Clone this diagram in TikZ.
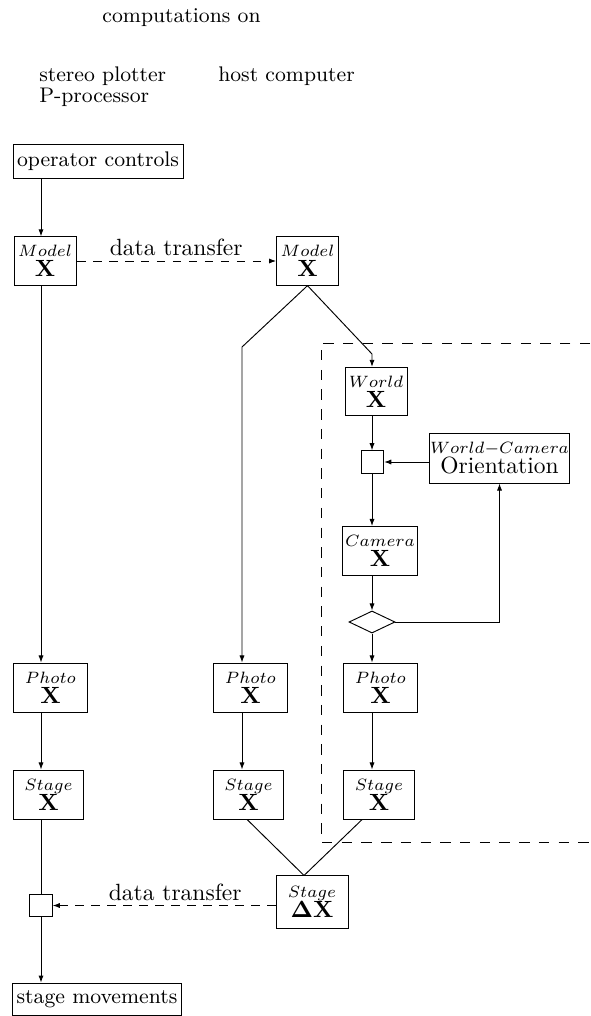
\documentclass[tikz,border=0pt]{standalone}
\usepackage{amsmath,amssymb}
\usepackage{tikz}
\usetikzlibrary{arrows.meta}
\usetikzlibrary{shapes.geometric}

\newcommand{\coordlbl}[2]{$\scriptstyle #1$\\[-3.5pt]$\mathbf{#2}$}

\begin{document}
\begin{tikzpicture}[x=0.426pt, y=-0.426pt,
    >={Latex[length=3pt,width=2.2pt]},
    frame/.style={draw, inner sep=0pt, align=center},
    narrowbox/.style={frame, minimum width=26.4pt, minimum height=20.6pt},
    widebox/.style={frame, minimum width=31.6pt, minimum height=20.9pt},
    textbox/.style={frame, font=\small, minimum height=14.5pt},
    joint/.style={draw, inner sep=0pt, minimum size=9.6pt},
    transfer/.style={dash pattern=on 3.6pt off 3.2pt},
    region/.style={dash pattern=on 4.4pt off 4pt}]
  \useasboundingbox (0,0) rectangle (590,1016);

  \node[font=\small] (comp) at (181.5,18) {computations on};
  \node[font=\small, anchor=west] (plotter) at (31,76) {stereo plotter};
  \node[font=\small, anchor=west] (pproc) at (31,97) {P-processor};
  \node[font=\small, anchor=west] (host) at (210,76) {host computer};

  \node[textbox, minimum width=72.4pt] (opctrl) at (98,161) {operator controls};
  \node[narrowbox] (modelL) at (45,261) {\coordlbl{Model}{X}};
  \node[narrowbox] (modelR) at (307.5,261) {\coordlbl{Model}{X}};
  \node[narrowbox] (world) at (376,391.5) {\coordlbl{World}{X}};
  \node[joint] (junc) at (372.5,462) {};
  \node[frame, minimum width=60pt, minimum height=20.9pt] (orient) at (499.5,458.5)
    {$\scriptstyle World-Camera$\\[-3.5pt]Orientation};
  \node[widebox] (camera) at (380,551) {\coordlbl{Camera}{X}};
  \node[draw, diamond, inner sep=0pt, minimum width=19.6pt, minimum height=9.4pt] (diam) at (372,622) {};
  \node[widebox] (photoL) at (50.5,687.5) {\coordlbl{Photo}{X}};
  \node[widebox] (photoM) at (250.5,687.5) {\coordlbl{Photo}{X}};
  \node[widebox] (photoR) at (380.5,687.5) {\coordlbl{Photo}{X}};
  \node[widebox, minimum width=30.2pt] (stageL) at (48.5,794.5) {\coordlbl{Stage}{X}};
  \node[widebox, minimum width=30.2pt] (stageM) at (248.5,794.5) {\coordlbl{Stage}{X}};
  \node[widebox, minimum width=30.2pt] (stageR) at (379,794.5) {\coordlbl{Stage}{X}};
  \node[frame, minimum width=30.7pt, minimum height=22.2pt] (dx) at (312,902) {\coordlbl{Stage}{\Delta X}};
  \node[joint] (sqL) at (41,905.5) {};
  \node[textbox, minimum width=71.6pt, minimum height=13.6pt] (movem) at (97,999) {stage movements};

  \coordinate (colL) at (41,0);
  \coordinate (bendM) at (242,347);
  \coordinate (bendR) at (372,354);

  \draw[->] (opctrl.south -| colL) -- (modelL.north -| colL);
  \draw[->] (modelL.south -| colL) -- (photoL.north -| colL);
  \draw[->] (photoL.south -| colL) -- (stageL.north -| colL);
  \draw (stageL.south -| colL) -- (sqL.north);
  \draw[->] (sqL.south) -- (movem.north -| colL);

  \draw[transfer, |->] (modelL.east) -- node[above, inner sep=2pt] (dtA) {data transfer} (modelR.west);

  \draw[->] (modelR.south) -- (bendM) -- (photoM.north -| bendM);
  \draw[->] (modelR.south) -- (bendR) -- (world.north -| bendR);
  \draw[->] (world.south -| bendR) -- (junc.north -| bendR);
  \draw[->] (orient.west |- junc) -- (junc.east);
  \draw[->] (junc.south -| bendR) -- (camera.north -| bendR);
  \draw[->] (camera.south -| bendR) -- (diam.north);
  \draw[->] (diam.east) -| (orient.south);
  \draw[->] (diam.south) -- (photoR.north -| diam);
  \draw[->] (photoR.south -| diam) -- (stageR.north -| diam);
  \draw[->] (photoM.south -| bendM) -- (stageM.north -| bendM);
  \draw ([xshift=-0.6pt]stageM.south) -- ([xshift=-3.4pt]dx.north);
  \draw ([xshift=-7.2pt]stageR.south) -- ([xshift=-3.4pt]dx.north);

  \draw[transfer, ->] (dx.west |- sqL) -- node[above, pos=0.45, inner sep=2pt] (dtB) {data transfer} (sqL.east);

  \draw[region] (590,343) -- (321,343) -- (321,842) -- (590,842);
\end{tikzpicture}
\end{document}
